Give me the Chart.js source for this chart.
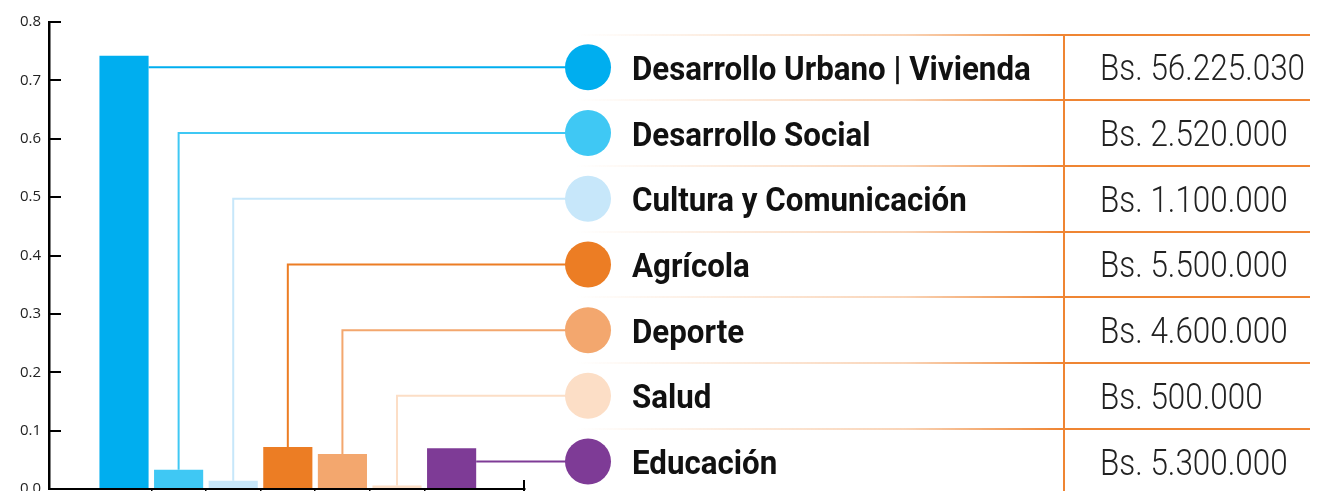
<!DOCTYPE html>
<html>
<head>
<meta charset="utf-8">
<script src="https://cdn.jsdelivr.net/npm/chart.js@4/dist/chart.umd.min.js"></script>
<style>
  body { margin: 0; background: #fff; }
  #wrap { position: relative; width: 1317px; height: 491px; overflow: hidden; }
  #c { position: absolute; left: 0; top: 0; }
  .rule { position: absolute; left: 575px; width: 735px; height: 2px;
          background: linear-gradient(to right, rgba(239,133,51,0), rgba(239,133,51,0.35) 45%, #EF8533 66%); }
  .vrule { position: absolute; left: 1063px; top: 34px; bottom: 0; width: 2px; background: #EF8533; }
  .lbl { position: absolute; left: 632px; font: 700 34px Roboto, sans-serif; line-height: 34px; color: #111;
         white-space: nowrap; transform: scaleX(0.92); transform-origin: 0 0; }
  .amt { position: absolute; left: 1100px; font: 300 37px Roboto, sans-serif; line-height: 37px; color: #222;
         white-space: nowrap; transform: scaleX(0.85); transform-origin: 0 0; }
</style>
</head>
<body>
<div id="wrap">
  <canvas id="c" width="1317" height="491"></canvas>
  <div id="table"></div>
</div>
<script>
// datos
const categories = ['Desarrollo Urbano | Vivienda', 'Desarrollo Social', 'Cultura y Comunicación', 'Agrícola', 'Deporte', 'Salud', 'Educación'];
const shares = [0.742, 0.033, 0.014, 0.072, 0.060, 0.006, 0.070];
const amounts = ['Bs. 56.225.030', 'Bs. 2.520.000', 'Bs. 1.100.000', 'Bs. 5.500.000', 'Bs. 4.600.000', 'Bs. 500.000', 'Bs. 5.300.000'];
const yTicks = [0, 0.1, 0.2, 0.3, 0.4, 0.5, 0.6, 0.7, 0.8];

const colors = ['#00AEEF', '#3FC8F4', '#C7E7FA', '#EC7D24', '#F3A76E', '#FCDEC6', '#7E3B96'];

// filas de la tabla
const ROW_TOP = 34.5, ROW_H = 65.7;
const DOT_X = 588, DOT_R = 23;
const rowY = i => ROW_TOP + ROW_H * (i + 0.5);

// lineas desde cada barra hasta su circulo
const connectors = {
  id: 'connectors',
  beforeDatasetsDraw(chart) {
    const ctx = chart.ctx;
    const bars = chart.getDatasetMeta(0).data;
    ctx.save();
    ctx.lineWidth = 2;
    bars.forEach((bar, i) => {
      const y = rowY(i);
      ctx.strokeStyle = colors[i];
      ctx.beginPath();
      if (y > bar.y) {
        ctx.moveTo(bar.x + bar.width / 2, y);
      } else {
        ctx.moveTo(bar.x, bar.y);
        ctx.lineTo(bar.x, y);
      }
      ctx.lineTo(DOT_X, y);
      ctx.stroke();
    });
    ctx.restore();
  },
  afterDraw(chart) {
    const ctx = chart.ctx;
    ctx.save();
    categories.forEach((c, i) => {
      ctx.fillStyle = colors[i];
      ctx.beginPath();
      ctx.arc(DOT_X, rowY(i), DOT_R, 0, Math.PI * 2);
      ctx.fill();
    });
    // remate del eje x
    const xs = chart.scales.x;
    ctx.strokeStyle = '#000';
    ctx.lineWidth = 2;
    ctx.beginPath();
    ctx.moveTo(xs.right - 1, xs.top - 9);
    ctx.lineTo(xs.right - 1, xs.top + 2);
    ctx.stroke();
    ctx.restore();
  }
};

new Chart(document.getElementById('c'), {
  type: 'bar',
  data: {
    datasets: [{
      label: 'Participación',
      data: shares.map((v, i) => ({ x: i + 1, y: v })),
      backgroundColor: colors,
      borderWidth: 0,
      barPercentage: 0.9,
      categoryPercentage: 1.0
    }]
  },
  options: {
    responsive: false,
    animation: false,
    layout: { padding: { left: 0, top: 22, right: 792, bottom: 0 } },
    plugins: {
      legend: { display: false },
      tooltip: { enabled: false }
    },
    scales: {
      x: {
        type: 'linear',
        offset: false,
        min: -0.374,
        max: 8.344,
        afterBuildTicks: s => { s.ticks = [1.5, 2.5, 3.5, 4.5, 5.5, 6.5].map(v => ({ value: v })); },
        ticks: { display: false },
        grid: { offset: false, drawOnChartArea: false, tickLength: 2, color: '#000', lineWidth: 1.5 },
        border: { color: '#000', width: 2 }
      },
      y: {
        min: 0,
        max: 0.8,
        afterBuildTicks: s => { s.ticks = yTicks.map(v => ({ value: v })); },
        afterFit: s => { s.width = 49; s.paddingTop = 0; s.paddingBottom = 0; },
        ticks: {
          padding: 20,
          color: '#222',
          font: { family: 'Open Sans', size: 15 },
          callback: v => v.toFixed(1)
        },
        grid: { drawOnChartArea: false, tickLength: -12, color: '#000', lineWidth: 2 },
        border: { color: '#000', width: 2.5 }
      }
    }
  },
  plugins: [connectors]
});

// tabla de la derecha
const table = document.getElementById('table');
for (let i = 0; i <= categories.length; i++) {
  const r = document.createElement('div');
  r.className = 'rule';
  r.style.top = (ROW_TOP + ROW_H * i - 1) + 'px';
  table.appendChild(r);
}
const v = document.createElement('div');
v.className = 'vrule';
table.appendChild(v);
categories.forEach((c, i) => {
  const l = document.createElement('div');
  l.className = 'lbl';
  l.textContent = c;
  l.style.top = (rowY(i) - 16.5) + 'px';
  table.appendChild(l);
  const a = document.createElement('div');
  a.className = 'amt';
  a.textContent = amounts[i];
  a.style.top = (rowY(i) - 18) + 'px';
  table.appendChild(a);
});
</script>
</body>
</html>
